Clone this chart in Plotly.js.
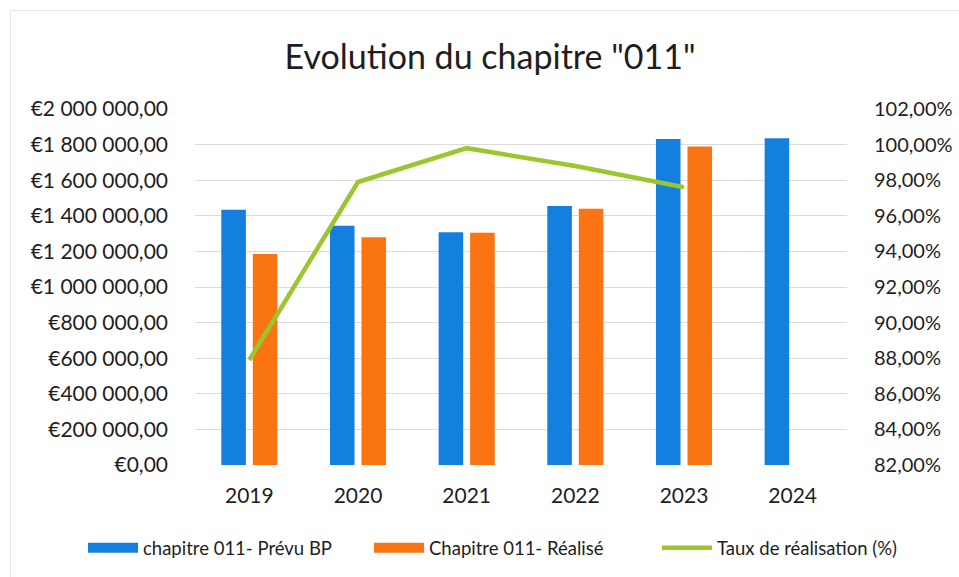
<!DOCTYPE html>
<html>
<head>
<meta charset="utf-8">
<script src="https://cdn.plot.ly/plotly-3.0.1.min.js"></script>
<style>
  html, body { margin: 0; padding: 0; background: #fff; }
  #frame { position: absolute; left: 10px; top: 10px; width: 960px; height: 580px; border-left: 1px solid #e6e6e6; border-top: 1px solid #e6e6e6; pointer-events: none; }
  #chart { width: 959px; height: 577px; }
</style>
</head>
<body>
<div id="chart"></div>
<div id="frame"></div>
<script>
const years = ['2019', '2020', '2021', '2022', '2023', '2024'];
const prevuBP = [1434000, 1344000, 1308000, 1455000, 1831000, 1835000];
const realise = [1185000, 1280000, 1305000, 1440000, 1790000, null];
const tauxYears = ['2019', '2020', '2021', '2022', '2023'];
const taux = [87.9, 97.9, 99.8, 98.8, 97.6];
const seriesNames = ['chapitre 011- Prévu BP', 'Chapitre 011- Réalisé', 'Taux de réalisation (%)'];

const BLUE = '#1380e0', ORANGE = '#fa7414', GREEN = '#9dc52e';
const FONT = 'Lato, "Open Sans", sans-serif';

const traces = [
  { type: 'bar', x: years, y: prevuBP, name: seriesNames[0], marker: { color: BLUE }, showlegend: false, hoverinfo: 'skip' },
  { type: 'bar', x: years, y: realise, name: seriesNames[1], marker: { color: ORANGE }, showlegend: false, hoverinfo: 'skip' },
  { type: 'scatter', mode: 'lines', x: [null], y: [null], name: seriesNames[0], legend: 'legend', line: { color: BLUE, width: 10 } },
  { type: 'scatter', mode: 'lines', x: [null], y: [null], name: seriesNames[1], legend: 'legend2', line: { color: ORANGE, width: 10 } },
  { type: 'scatter', mode: 'lines', x: tauxYears, y: taux, name: seriesNames[2], yaxis: 'y2', legend: 'legend3', line: { color: GREEN, width: 4.5 } }
];

function legendAt(px) {
  return { orientation: 'h', xref: 'container', yref: 'container', x: px / 959, xanchor: 'left', y: 0.05, yanchor: 'middle', font: { size: 18.5, family: FONT }, itemwidth: 50, bgcolor: 'rgba(0,0,0,0)' };
}

const layout = {
  width: 959, height: 577,
  margin: { l: 195, r: 112, t: 109, b: 112 },
  paper_bgcolor: '#ffffff', plot_bgcolor: '#ffffff',
  separators: ', ',
  font: { family: FONT, color: '#1e1e1e', size: 18 },
  title: { text: 'Evolution du chapitre "011"', font: { family: FONT, size: 34, color: '#1e1e1e' }, x: 0.511, xanchor: 'center', y: 0.901, yanchor: 'middle' },
  barmode: 'group', bargap: 0.42, bargroupgap: 0.22,
  xaxis: { type: 'category', categoryorder: 'array', categoryarray: years, showgrid: false, showline: false, zeroline: false, ticks: '', ticklabelstandoff: 16, tickfont: { size: 21 } },
  yaxis: { range: [0, 2000000], dtick: 200000, tick0: 0, tickprefix: '€', tickformat: ',.2f', showgrid: true, gridcolor: '#dcdcdc', gridwidth: 1, zeroline: false, showline: false, ticks: '', ticklabelstandoff: 26, tickfont: { size: 21 } },
  yaxis2: { overlaying: 'y', side: 'right', range: [82, 102], dtick: 2, tick0: 82, ticksuffix: '%', tickformat: '.2f', showgrid: false, zeroline: false, showline: false, ticks: '', ticklabelstandoff: 26, tickfont: { size: 20 } },
  legend: legendAt(83),
  legend2: legendAt(369),
  legend3: legendAt(657),
  showlegend: true
};

Plotly.newPlot('chart', traces, layout, { displayModeBar: false, staticPlot: true });
</script>
</body>
</html>
